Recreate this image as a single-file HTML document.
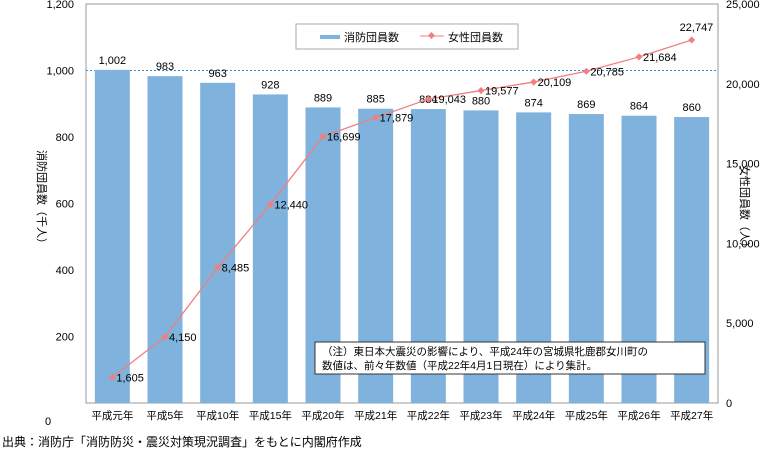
<!DOCTYPE html>
<html><head><meta charset="utf-8"><style>
body{margin:0;background:#fff;font-family:"Liberation Sans","Noto Sans CJK JP",sans-serif;}
svg text{font-family:"Liberation Sans","Noto Sans CJK JP",sans-serif;}
</style></head><body>
<svg id="c" width="780" height="454" xmlns="http://www.w3.org/2000/svg">
<rect x="86" y="4" width="632" height="399" fill="#fff" stroke="#999"/>
<line x1="86" x2="718" y1="70.5" y2="70.5" stroke="#3a8fd0" stroke-dasharray="2,2"/>
<g id="bars"></g><g id="line"></g><g id="ticks"></g>
<g>
<rect x="296" y="24" width="222" height="25" fill="#fff" stroke="#aaa"/>
<rect x="320" y="35" width="20" height="4" fill="#7fb2dd"/>
<text x="344" y="41" font-size="11">消防団員数</text>
<line x1="420" x2="444" y1="36" y2="36" stroke="#f08080"/>
<rect x="429" y="33" width="5" height="5" fill="#f08080" transform="rotate(45 431.5 35.5)"/>
<text x="448" y="41" font-size="11">女性団員数</text>
</g>
<g>
<rect x="315" y="342" width="390" height="32" fill="#fff" stroke="#333"/>
<text x="322" y="355" font-size="10.5">（注）東日本大震災の影響により、平成24年の宮城県牝鹿郡女川町の</text>
<text x="322" y="369" font-size="10.5">数値は、前々年数値（平成22年4月1日現在）により集計。</text>
</g>
<text x="48" y="425" font-size="11" text-anchor="middle">0</text>
<text font-size="11" transform="translate(38,150) rotate(90)">消防団員数（千人）</text>
<text font-size="11" transform="translate(741,165) rotate(90)">女性団員数（人）</text>
<text x="2" y="446" font-size="12">出典：消防庁「消防防災・震災対策現況調査」をもとに内閣府作成</text>
</svg>
<script>
const categories=["平成元年","平成5年","平成10年","平成15年","平成20年","平成21年","平成22年","平成23年","平成24年","平成25年","平成26年","平成27年"];
const firefighters=[1002,983,963,928,889,885,884,880,874,869,864,860];
const women=[1605,4150,8485,12440,16699,17879,19043,19577,20109,20785,21684,22747];
const leftTicks=[200,400,600,800,1000,1200];
const rightTicks=[0,5000,10000,15000,20000,25000];
const NS="http://www.w3.org/2000/svg";
const L=86,R=718,T=4,B=403,bw=(R-L)/categories.length;
const xc=i=>L+bw*(i+0.5);
const yl=v=>B-v/1200*(B-T);
const yr=v=>B-v/25000*(B-T);
function mk(tag,attrs,parent,txt){const e=document.createElementNS(NS,tag);for(const k in attrs)e.setAttribute(k,attrs[k]);if(txt!==undefined)e.textContent=txt;parent.appendChild(e);return e;}
const gb=document.getElementById('bars'),gl=document.getElementById('line'),gt=document.getElementById('ticks');
firefighters.forEach((v,i)=>{
 const r=mk('rect',{x:xc(i)-17.5,y:yl(v),width:35,height:B-yl(v),fill:'#7fb2dd'},gb);
 
 
 const t=mk('text',{x:xc(i),y:yl(v)-6,'font-size':11,'text-anchor':'middle'},gb,v.toLocaleString('en-US'));
 
 
 const c=mk('text',{x:xc(i),y:419,'font-size':10.5,'text-anchor':'middle'},gt,categories[i]);
 
 
});
const pts=women.map((v,i)=>xc(i)+','+yr(v)).join(' ');
const pl=mk('polyline',{points:pts,fill:'none',stroke:'#f08080','stroke-width':1.3},gl);


women.forEach((v,i)=>{
 const x=xc(i),y=yr(v);
 const p=mk('rect',{x:x-2.5,y:y-2.5,width:5,height:5,fill:'#f08080',transform:`rotate(45 ${x} ${y})`},gl);
 
 
 const t=mk('text',{x:x+4,y:y+4,'font-size':11,fill:'#000'},gl,v.toLocaleString('en-US'));
 if(i==women.length-1){t.setAttribute('x',x-12);t.setAttribute('y',y-9);}
 
 
});
leftTicks.forEach(v=>{
 const t=mk('text',{x:74,y:yl(v)+4,'font-size':11,'text-anchor':'end'},gt,v.toLocaleString('en-US'));
 
 
});
rightTicks.forEach(v=>{
 const t=mk('text',{x:726,y:yr(v)+4,'font-size':11},gt,v.toLocaleString('en-US'));
 
 
});
</script>
</body></html>
